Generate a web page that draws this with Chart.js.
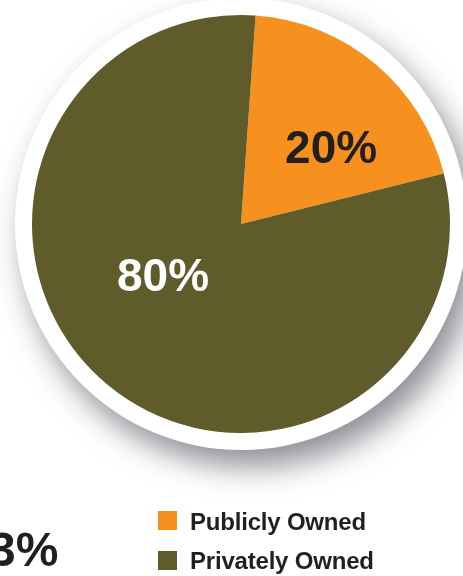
<!DOCTYPE html>
<html><head><meta charset="utf-8">
<script src="https://cdn.jsdelivr.net/npm/chart.js@4.4.1/dist/chart.umd.min.js"></script>
<style>
html,body{margin:0;padding:0;background:#fff;width:463px;height:576px;overflow:hidden;font-family:"Liberation Sans",Arial,sans-serif;}
#wrap{position:relative;width:463px;height:576px;overflow:hidden;}
#c{position:absolute;left:0;top:0;}
.sw{position:absolute;width:19px;height:19px;}
.lt{position:absolute;font-weight:bold;font-size:24px;line-height:24px;color:#231f20;white-space:nowrap;letter-spacing:-0.2px;}
#edge{position:absolute;left:-11px;top:526px;font-weight:bold;font-size:48px;line-height:48px;color:#231f20;white-space:nowrap;}
</style>
</head><body>
<div id="wrap">
<canvas id="c" width="463" height="576"></canvas>
<div id="legend"></div>
<div id="edge">3%</div>
</div>
<script>
const categories = ["Publicly Owned", "Privately Owned"];
const shares = [20, 80];
const sliceColors = ["#F6901F", "#605B2B"];
const labelColors = ["#231F20", "#FFFFFF"];

// legend (real text)
const legend = document.getElementById('legend');
categories.forEach((name, i) => {
  const sw = document.createElement('div');
  sw.className = 'sw';
  sw.style.left = '158px';
  sw.style.top = (511 + i * 40) + 'px';
  sw.style.background = sliceColors[i];
  legend.appendChild(sw);
  const t = document.createElement('div');
  t.className = 'lt';
  t.style.left = '190px';
  t.style.top = (510 + i * 39) + 'px';
  t.textContent = name;
  legend.appendChild(t);
});

const ringShadow = {
  id: 'ringShadow',
  beforeDatasetsDraw(chart) {
    const arc = chart.getDatasetMeta(0).data[0];
    if (!arc) return;
    const ctx = chart.ctx;
    ctx.save();
    ctx.shadowColor = 'rgba(30,30,45,0.5)';
    ctx.shadowBlur = 30;
    ctx.shadowOffsetX = 10;
    ctx.shadowOffsetY = 16;
    ctx.beginPath();
    ctx.arc(arc.x, arc.y, arc.outerRadius + 17, 0, Math.PI * 2);
    ctx.fillStyle = '#ffffff';
    ctx.fill();
    ctx.restore();
  }
};

const labelPlacement = [[0.431, -0.292], [-0.373, 0.321]];
const sliceLabels = {
  id: 'sliceLabels',
  afterDatasetsDraw(chart) {
    const meta = chart.getDatasetMeta(0);
    const data = chart.data.datasets[0].data;
    const total = data.reduce((a, b) => a + b, 0);
    const ctx = chart.ctx;
    ctx.save();
    ctx.font = 'bold 46px "Liberation Sans", Arial, sans-serif';
    ctx.textAlign = 'center';
    ctx.textBaseline = 'alphabetic';
    meta.data.forEach((arc, i) => {
      const r = arc.outerRadius;
      const p = labelPlacement[i];
      ctx.fillStyle = labelColors[i];
      ctx.fillText(Math.round(data[i] / total * 100) + '%', arc.x + p[0] * r, arc.y + p[1] * r);
    });
    ctx.restore();
  }
};

new Chart(document.getElementById('c'), {
  type: 'pie',
  data: {
    labels: categories,
    datasets: [{
      data: shares,
      backgroundColor: sliceColors,
      borderWidth: 0,
      hoverOffset: 0
    }]
  },
  options: {
    responsive: false,
    animation: false,
    rotation: 4,
    radius: 209,
    layout: { padding: { left: 19, right: 0, top: 0, bottom: 128 } },
    plugins: { legend: { display: false }, tooltip: { enabled: false } }
  },
  plugins: [ringShadow, sliceLabels]
});
</script>
</body></html>
